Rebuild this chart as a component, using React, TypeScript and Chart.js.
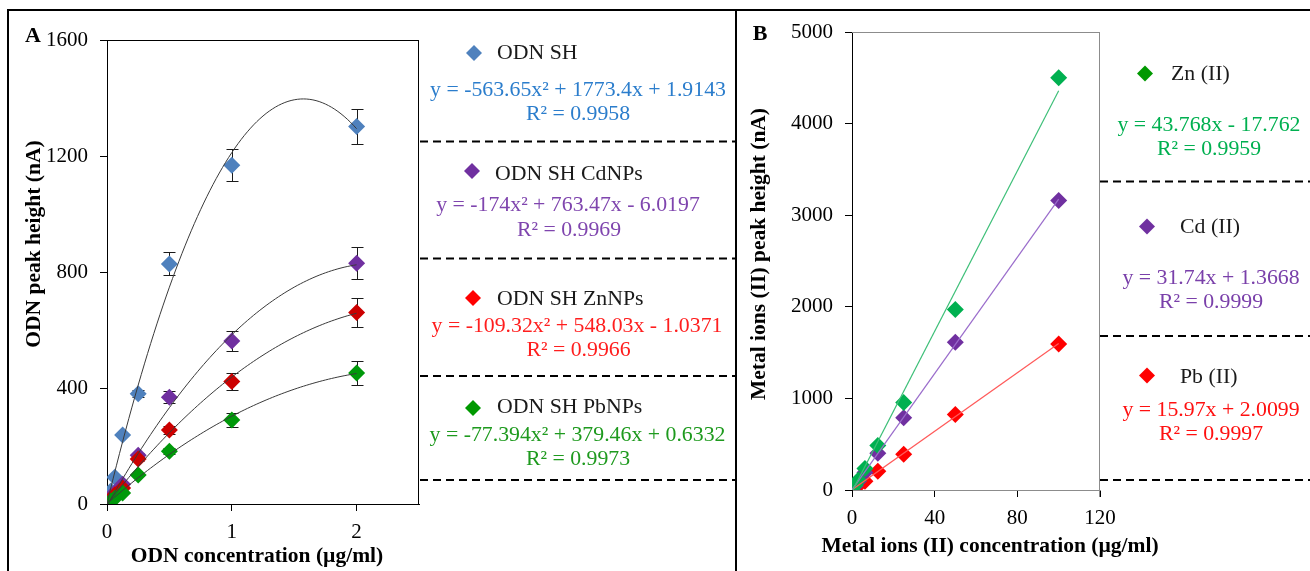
import React, { useEffect, useRef } from 'react';
import { Chart, registerables } from 'chart.js';

Chart.register(...registerables);

const SERIF = "'Liberation Serif', 'Times New Roman', serif";

// ---------------- Panel A data ----------------
const odnConcentration = [0, 0.03125, 0.0625, 0.125, 0.25, 0.5, 1, 2];
const odnSH = [3, 45, 92, 238, 380, 828, 1168, 1302];
const odnSHErr = [0, 0, 0, 0, 12, 40, 55, 60];
const odnSHCd = [0, 20, 40, 68, 168, 368, 562, 830];
const odnSHCdErr = [0, 0, 0, 0, 8, 20, 35, 55];
const odnSHZn = [0, 15, 32, 55, 155, 255, 422, 660];
const odnSHZnErr = [0, 0, 0, 0, 8, 15, 30, 50];
const odnSHPb = [0, 10, 20, 38, 100, 182, 290, 452];
const odnSHPbErr = [0, 0, 0, 0, 5, 10, 25, 40];

const seriesNamesA = ['ODN SH', 'ODN SH CdNPs', 'ODN SH ZnNPs', 'ODN SH PbNPs'];
// trendline coefficients  y = a x^2 + b x + c
const quadFitA = [
  [-563.65, 1773.4, 1.9143],
  [-174, 763.47, -6.0197],
  [-109.32, 548.03, -1.0371],
  [-77.394, 379.46, 0.6332],
];
const equationsA = [
  'y = -563.65x² + 1773.4x + 1.9143',
  'y = -174x² + 763.47x - 6.0197',
  'y = -109.32x² + 548.03x - 1.0371',
  'y = -77.394x² + 379.46x + 0.6332',
];
const r2A = ['R² = 0.9958', 'R² = 0.9969', 'R² = 0.9966', 'R² = 0.9973'];
const xTicksA = [0, 1, 2];
const yTicksA = [0, 400, 800, 1200, 1600];

// ---------------- Panel B data ----------------
const metalConcentration = [0, 1.5625, 3.125, 6.25, 12.5, 25, 50, 100];
const znII = [0, 55, 110, 235, 485, 955, 1970, 4500];
const cdII = [0, 45, 95, 190, 400, 790, 1612, 3160];
const pbII = [0, 25, 50, 95, 205, 390, 825, 1595];
const seriesNamesB = ['Zn (II)', 'Cd (II)', 'Pb (II)'];
// trendline coefficients  y = m x + b
const linFitB = [
  [43.768, -17.762],
  [31.74, 1.3668],
  [15.97, 2.0099],
];
const equationsB = ['y = 43.768x - 17.762', 'y = 31.74x + 1.3668', 'y = 15.97x + 2.0099'];
const r2B = ['R² = 0.9959', 'R² = 0.9999', 'R² = 0.9997'];
const xTicksB = [0, 40, 80, 120];
const yTicksB = [0, 1000, 2000, 3000, 4000, 5000];

// ---------------- helpers ----------------
type Pt = { x: number; y: number };
const zip = (xs: number[], ys: number[]): Pt[] => xs.map((x, i) => ({ x, y: ys[i] }));

function drawDiamond(ctx: CanvasRenderingContext2D, x: number, y: number, r: number, color: string) {
  ctx.save();
  ctx.fillStyle = color;
  ctx.beginPath();
  ctx.moveTo(x, y - r);
  ctx.lineTo(x + r, y);
  ctx.lineTo(x, y + r);
  ctx.lineTo(x - r, y);
  ctx.closePath();
  ctx.fill();
  ctx.restore();
}

function drawText(
  ctx: CanvasRenderingContext2D,
  s: string,
  x: number,
  y: number,
  font: string,
  color: string,
  align: CanvasTextAlign = 'center',
  rot = 0
) {
  ctx.save();
  ctx.font = font;
  ctx.fillStyle = color;
  ctx.textAlign = align;
  ctx.textBaseline = 'middle';
  ctx.translate(x, y);
  if (rot) ctx.rotate(rot);
  ctx.fillText(s, 0, 0);
  ctx.restore();
}

function hLine(ctx: CanvasRenderingContext2D, x1: number, x2: number, y: number, w: number, color: string, dash: number[] = []) {
  ctx.save();
  ctx.strokeStyle = color;
  ctx.lineWidth = w;
  ctx.setLineDash(dash);
  ctx.beginPath();
  ctx.moveTo(x1, y);
  ctx.lineTo(x2, y);
  ctx.stroke();
  ctx.restore();
}

function vLine(ctx: CanvasRenderingContext2D, x: number, y1: number, y2: number, w: number, color: string) {
  ctx.save();
  ctx.strokeStyle = color;
  ctx.lineWidth = w;
  ctx.beginPath();
  ctx.moveTo(x, y1);
  ctx.lineTo(x, y2);
  ctx.stroke();
  ctx.restore();
}

const tickFont = { family: SERIF, size: 21 };
const plainTick = (v: any) => String(v);
const TEXT_FONT = `21.8px ${SERIF}`;
const TITLE_FONT = `bold 21.5px ${SERIF}`;

// ---------------- Panel A ----------------
const seriesA = [
  { name: seriesNamesA[0], ys: odnSH, err: odnSHErr, color: '#4F81BD', legend: '#4F81BD', text: '#2b7dcc' },
  { name: seriesNamesA[1], ys: odnSHCd, err: odnSHCdErr, color: '#7030A0', legend: '#7030A0', text: '#7f45ae' },
  { name: seriesNamesA[2], ys: odnSHZn, err: odnSHZnErr, color: '#CC0000', legend: '#FF0000', text: '#ff1e1e' },
  { name: seriesNamesA[3], ys: odnSHPb, err: odnSHPbErr, color: '#00990A', legend: '#009900', text: '#1e9a1e' },
];

function buildChartA(canvas: HTMLCanvasElement) {
  const xMaxFit = odnConcentration[odnConcentration.length - 1];
  const steps = 80;
  const fitDatasets = quadFitA.map(([a, b, c], i) => ({
    label: seriesNamesA[i] + ' trend',
    data: Array.from({ length: steps + 1 }, (_, k) => {
      const x = (k / steps) * xMaxFit;
      return { x, y: a * x * x + b * x + c };
    }),
    showLine: true,
    pointRadius: 0,
    borderColor: '#3a3a3a',
    borderWidth: 1,
    order: 0,
  }));
  const markerDatasets = seriesA.map((s, i) => ({
    label: s.name,
    data: zip(odnConcentration, s.ys),
    showLine: false,
    pointStyle: 'rectRot',
    pointRadius: 8.5,
    pointBackgroundColor: s.color,
    pointBorderWidth: 0,
    order: 4 - i,
  }));

  const errorBars = {
    id: 'errorBarsA',
    beforeDatasetsDraw(chart: any) {
      const { ctx } = chart;
      const xs = chart.scales.x;
      const ys = chart.scales.y;
      ctx.save();
      ctx.strokeStyle = '#1a1a1a';
      ctx.lineWidth = 1;
      seriesA.forEach((s) => {
        odnConcentration.forEach((xv, i) => {
          const e = s.err[i];
          if (!e) return;
          const px = Math.round(xs.getPixelForValue(xv)) + 0.5;
          const y1 = Math.round(ys.getPixelForValue(s.ys[i] + e)) + 0.5;
          const y2 = Math.round(ys.getPixelForValue(s.ys[i] - e)) + 0.5;
          ctx.beginPath();
          ctx.moveTo(px, y1);
          ctx.lineTo(px, y2);
          ctx.moveTo(px - 6, y1);
          ctx.lineTo(px + 6, y1);
          ctx.moveTo(px - 6, y2);
          ctx.lineTo(px + 6, y2);
          ctx.stroke();
        });
      });
      ctx.restore();
    },
  };

  const decor = {
    id: 'decorA',
    afterDraw(chart: any) {
      const { ctx, chartArea } = chart;
      // plot box (top & right)
      const t = Math.round(chartArea.top) + 0.5;
      const r = Math.round(chartArea.right) - 0.5;
      hLine(ctx, chartArea.left, chartArea.right, t, 1, '#000');
      vLine(ctx, r, chartArea.top, chartArea.bottom, 1, '#000');
      // outer frame
      hLine(ctx, 7, 737, 10, 2, '#000');
      vLine(ctx, 8, 9, 571, 2, '#000');
      vLine(ctx, 736, 9, 571, 2, '#000');
      // panel label and axis titles
      drawText(ctx, 'A', 33, 36, `bold 22px ${SERIF}`, '#000');
      drawText(ctx, 'ODN peak height (nA)', 34, 244, TITLE_FONT, '#000', 'center', -Math.PI / 2);
      drawText(ctx, 'ODN concentration (µg/ml)', 257, 556, TITLE_FONT, '#000');
      // legend blocks
      const diamondPos = [[474, 53], [472, 171], [473, 298], [473, 408]];
      const namePos = [[497, 53.5], [495, 174], [497, 299], [497, 407.5]];
      const eqPos = [[578, 90], [568, 205], [577, 326.5], [577.5, 435]];
      const r2Pos = [[578, 114], [569, 230], [578.5, 350.5], [578, 459]];
      seriesA.forEach((s, i) => {
        drawDiamond(ctx, diamondPos[i][0], diamondPos[i][1], 8, s.legend);
        drawText(ctx, s.name, namePos[i][0], namePos[i][1], TEXT_FONT, '#1a1a1a', 'left');
        drawText(ctx, equationsA[i], eqPos[i][0], eqPos[i][1], TEXT_FONT, s.text);
        drawText(ctx, r2A[i], r2Pos[i][0], r2Pos[i][1], TEXT_FONT, s.text);
      });
      [141.5, 258.5, 376, 480].forEach((y) => hLine(ctx, 420, 737, y, 2, '#000', [8, 5]));
    },
  };

  return new Chart(canvas, {
    type: 'scatter',
    data: { datasets: [...fitDatasets, ...markerDatasets] as any },
    options: {
      animation: false,
      responsive: false,
      maintainAspectRatio: false,
      layout: { padding: { left: 0, right: 318, top: 40, bottom: 0 } },
      plugins: { legend: { display: false }, tooltip: { enabled: false } },
      events: [],
      scales: {
        x: {
          type: 'linear',
          min: 0,
          max: 2.5,
          afterBuildTicks: (s: any) => {
            s.ticks = xTicksA.map((v) => ({ value: v }));
          },
          afterFit: (s: any) => {
            s.height = 67;
          },
          ticks: { color: '#000', font: tickFont, padding: 9, callback: plainTick },
          grid: { drawOnChartArea: false, drawTicks: true, tickLength: 7, color: '#000' },
          border: { color: '#000', width: 1 },
        },
        y: {
          type: 'linear',
          min: 0,
          max: 1600,
          afterBuildTicks: (s: any) => {
            s.ticks = yTicksA.map((v) => ({ value: v }));
          },
          afterFit: (s: any) => {
            s.width = 107;
          },
          ticks: { color: '#000', font: tickFont, padding: 12, callback: plainTick },
          grid: { drawOnChartArea: false, drawTicks: true, tickLength: 7, color: '#000' },
          border: { color: '#000', width: 1 },
        },
      },
    } as any,
    plugins: [errorBars, decor],
  });
}

// ---------------- Panel B ----------------
const seriesB = [
  { name: seriesNamesB[0], ys: znII, color: '#00B050', line: '#3dbf78', legend: '#009900', text: '#00b050' },
  { name: seriesNamesB[1], ys: cdII, color: '#7030A0', line: '#9a6ccb', legend: '#7030A0', text: '#7a40aa' },
  { name: seriesNamesB[2], ys: pbII, color: '#FF0000', line: '#ff5a5a', legend: '#FF0000', text: '#ff1010' },
];

const OFF_B = 737;

function buildChartB(canvas: HTMLCanvasElement) {
  const x0 = metalConcentration[0];
  const x1 = metalConcentration[metalConcentration.length - 1];
  const fitDatasets = linFitB.map(([m, b], i) => ({
    label: seriesNamesB[i] + ' trend',
    data: [
      { x: x0, y: m * x0 + b },
      { x: x1, y: m * x1 + b },
    ],
    showLine: true,
    pointRadius: 0,
    borderColor: seriesB[i].line,
    borderWidth: 1.2,
    order: 0,
  }));
  const markerDatasets = seriesB.map((s, i) => ({
    label: s.name,
    data: zip(metalConcentration, s.ys),
    showLine: false,
    pointStyle: 'rectRot',
    pointRadius: 8.5,
    pointBackgroundColor: s.color,
    pointBorderWidth: 0,
    order: 1 + i,
  }));

  const decor = {
    id: 'decorB',
    afterDraw(chart: any) {
      const { ctx, chartArea } = chart;
      const t = Math.round(chartArea.top) + 0.5;
      const r = Math.round(chartArea.right) - 0.5;
      hLine(ctx, chartArea.left, chartArea.right, t, 1, '#8c8c8c');
      vLine(ctx, r, chartArea.top, chartArea.bottom + 7, 1, '#8c8c8c');
      // outer frame
      hLine(ctx, 0, 573, 10, 2, '#000');
      drawText(ctx, 'B', 760 - OFF_B, 34.5, `bold 22px ${SERIF}`, '#000');
      drawText(ctx, 'Metal ions (II) peak height (nA)', 759 - OFF_B, 254, TITLE_FONT, '#000', 'center', -Math.PI / 2);
      drawText(ctx, 'Metal ions (II) concentration (µg/ml)', 990 - OFF_B, 546, TITLE_FONT, '#000');
      const diamondPos = [[1145, 73.5], [1147, 226.5], [1147, 375.5]];
      const namePos = [[1171, 74], [1180, 227], [1180, 377]];
      const eqPos = [[1209, 125.5], [1211, 278], [1211, 410]];
      const r2Pos = [[1209, 149], [1211, 302], [1211, 434]];
      seriesB.forEach((s, i) => {
        drawDiamond(ctx, diamondPos[i][0] - OFF_B, diamondPos[i][1], 8, s.legend);
        drawText(ctx, s.name, namePos[i][0] - OFF_B, namePos[i][1], TEXT_FONT, '#1a1a1a', 'left');
        drawText(ctx, equationsB[i], eqPos[i][0] - OFF_B, eqPos[i][1], TEXT_FONT, s.text);
        drawText(ctx, r2B[i], r2Pos[i][0] - OFF_B, r2Pos[i][1], TEXT_FONT, s.text);
      });
      [181.5, 336, 480].forEach((y) => hLine(ctx, 1100 - OFF_B, 573, y, 2, '#000', [8, 5]));
    },
  };

  return new Chart(canvas, {
    type: 'scatter',
    data: { datasets: [...fitDatasets, ...markerDatasets] as any },
    options: {
      animation: false,
      responsive: false,
      maintainAspectRatio: false,
      layout: { padding: { left: 0, right: 210, top: 32, bottom: 0 } },
      plugins: { legend: { display: false }, tooltip: { enabled: false } },
      events: [],
      scales: {
        x: {
          type: 'linear',
          min: 0,
          max: 120,
          afterBuildTicks: (s: any) => {
            s.ticks = xTicksB.map((v) => ({ value: v }));
          },
          afterFit: (s: any) => {
            s.height = 81;
          },
          ticks: { color: '#000', font: tickFont, padding: 9, callback: plainTick },
          grid: { drawOnChartArea: false, drawTicks: true, tickLength: 7, color: '#000' },
          border: { color: '#8c8c8c', width: 1 },
        },
        y: {
          type: 'linear',
          min: 0,
          max: 5000,
          afterBuildTicks: (s: any) => {
            s.ticks = yTicksB.map((v) => ({ value: v }));
          },
          afterFit: (s: any) => {
            s.width = 115;
          },
          ticks: { color: '#000', font: tickFont, padding: 12, callback: plainTick },
          grid: { drawOnChartArea: false, drawTicks: true, tickLength: 7, color: '#000' },
          border: { color: '#000', width: 1 },
        },
      },
    } as any,
    plugins: [decor],
  });
}

export default function App() {
  const refA = useRef<HTMLCanvasElement | null>(null);
  const refB = useRef<HTMLCanvasElement | null>(null);

  useEffect(() => {
    const a = refA.current ? buildChartA(refA.current) : null;
    const b = refB.current ? buildChartB(refB.current) : null;
    return () => {
      a?.destroy();
      b?.destroy();
    };
  }, []);

  return (
    <div
      style={{
        position: 'fixed',
        left: 0,
        top: 0,
        width: 1310,
        height: 571,
        overflow: 'hidden',
        background: '#fff',
      }}
    >
      <canvas
        ref={refA}
        width={737}
        height={571}
        style={{ position: 'absolute', left: 0, top: 0, width: 737, height: 571 }}
      />
      <canvas
        ref={refB}
        width={573}
        height={571}
        style={{ position: 'absolute', left: 737, top: 0, width: 573, height: 571 }}
      />
    </div>
  );
}
